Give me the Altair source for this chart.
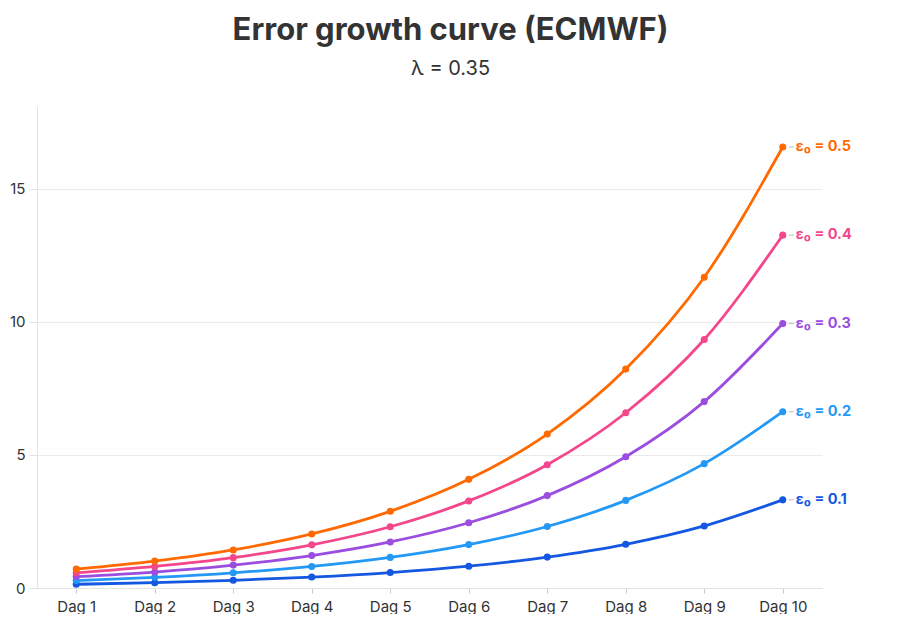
import altair as alt
import pandas as pd

days = ["Dag 1", "Dag 2", "Dag 3", "Dag 4", "Dag 5", "Dag 6", "Dag 7", "Dag 8", "Dag 9", "Dag 10"]
series_names = ["ε₀ = 0.1", "ε₀ = 0.2", "ε₀ = 0.3", "ε₀ = 0.4", "ε₀ = 0.5"]
colors = ["#1457E0", "#2399F5", "#9B4DDF", "#F4478B", "#FF6A00"]

e01 = [0.14, 0.20, 0.29, 0.41, 0.58, 0.82, 1.16, 1.64, 2.33, 3.31]
e02 = [0.28, 0.40, 0.57, 0.81, 1.15, 1.63, 2.31, 3.29, 4.67, 6.62]
e03 = [0.43, 0.60, 0.86, 1.22, 1.73, 2.45, 3.47, 4.93, 7.00, 9.93]
e04 = [0.57, 0.81, 1.14, 1.62, 2.30, 3.27, 4.63, 6.58, 9.33, 13.25]
e05 = [0.71, 1.01, 1.43, 2.03, 2.88, 4.08, 5.78, 8.22, 11.67, 16.56]

rows = []
for name, vals in zip(series_names, [e01, e02, e03, e04, e05]):
    for d, v in zip(days, vals):
        rows.append({"day": d, "value": v, "series": name})
df = pd.DataFrame(rows)
last = df[df["day"] == days[-1]]

FONT = "Inter"

x = alt.X("day:N", sort=days, title=None,
          scale=alt.Scale(type="point", padding=0.5),
          axis=alt.Axis(labelFontSize=15, labelColor="#333333", labelFont=FONT,
                        domainColor="#e3e3e3", tickColor="#cccccc", tickSize=5,
                        labelPadding=6, labelAngle=0, grid=False))
y = alt.Y("value:Q", title=None,
          scale=alt.Scale(domain=[0, 18.1], nice=False),
          axis=alt.Axis(values=[0, 5, 10, 15], labelFontSize=15, labelColor="#333333",
                        labelFont=FONT, domainColor="#e3e3e3", tickColor="#e3e3e3",
                        tickSize=8, labelPadding=4, gridColor="#ebebeb"))
color = alt.Color("series:N", scale=alt.Scale(domain=series_names, range=colors), legend=None)

base = alt.Chart(df)
lines = base.mark_line(interpolate="monotone", strokeWidth=2.8).encode(x=x, y=y, color=color)
points = base.mark_circle(size=50, opacity=1).encode(x=x, y=y, color=color)
leaders = alt.Chart(last).mark_rule(xOffset=6, x2Offset=11, color="#bbbbbb", strokeWidth=1).encode(
    x=x, x2="day:N", y=y)
labels = alt.Chart(last).mark_text(align="left", baseline="middle", dx=13, fontSize=14.5,
                                   fontWeight="bold", font=FONT).encode(
    x=x, y=y, text="series:N", color=color)

chart = alt.layer(lines, points, leaders, labels).properties(
    width=785, height=482,
    autosize=alt.AutoSizeParams(type="none"),
    padding={"left": 29, "top": 98, "right": 70, "bottom": 26},
    title=alt.TitleParams(
        text="Error growth curve (ECMWF)", subtitle="λ = 0.35",
        anchor="middle", dx=21, offset=26, font=FONT, fontSize=31, fontWeight="bold",
        color="#333333", subtitleFont=FONT, subtitleFontSize=20, subtitleColor="#333333",
        subtitlePadding=12),
).configure_view(stroke=None)

chart.save("out.html", embed_options={"renderer": "svg", "actions": False})
